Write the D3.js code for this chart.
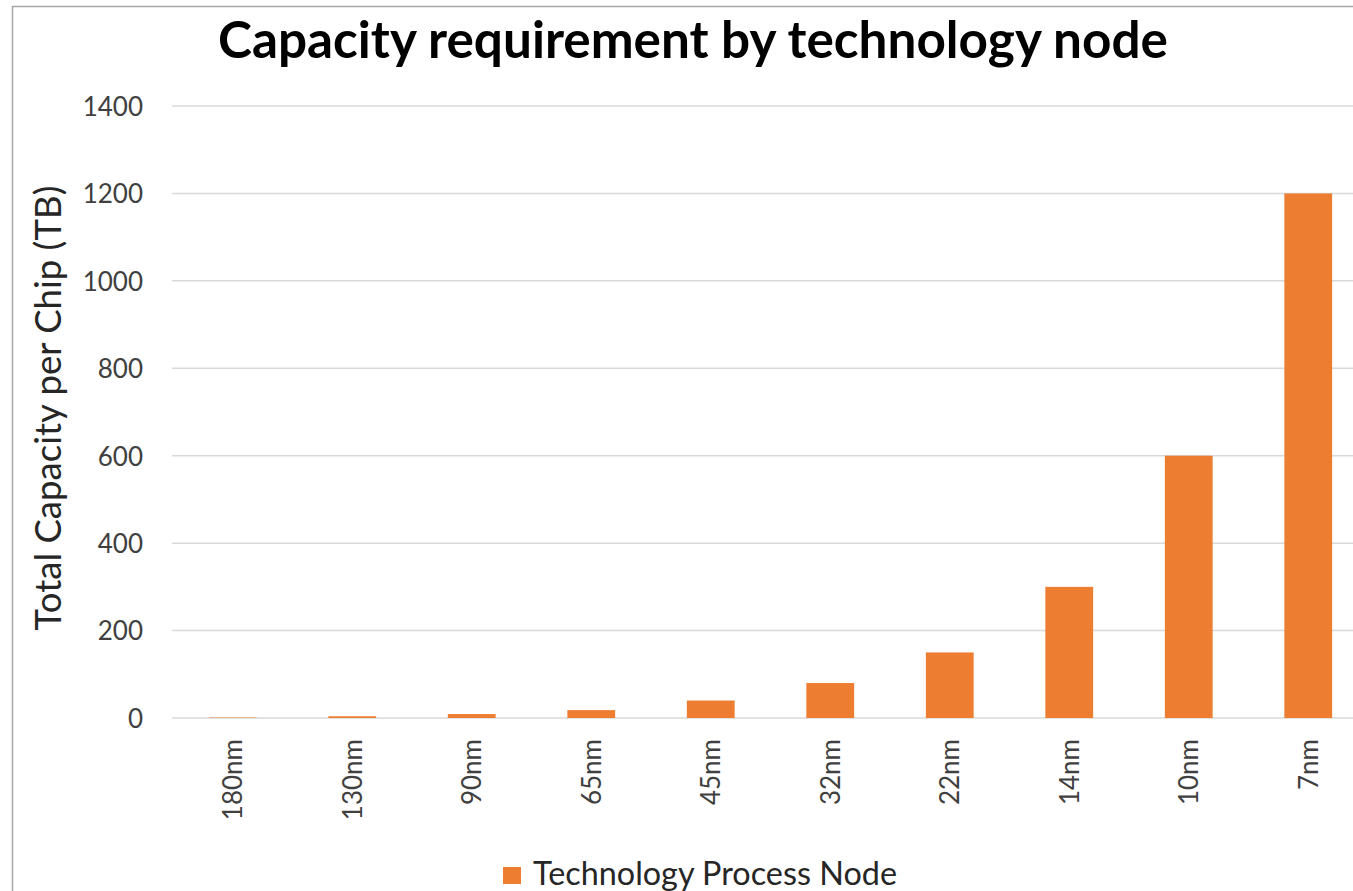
<!DOCTYPE html>
<html>
<head>
<meta charset="utf-8">
<script src="https://cdn.jsdelivr.net/npm/d3@7"></script>
<style>
  body { margin: 0; background: #fff; }
  svg { display: block; font-family: Lato, "Open Sans", sans-serif; }
</style>
</head>
<body>
<svg id="chart"></svg>
<script>
// chart data
var nodes = ["180nm", "130nm", "90nm", "65nm", "45nm", "32nm", "22nm", "14nm", "10nm", "7nm"];
var capacity = [1, 4, 9, 18, 40, 80, 150, 300, 600, 1200];
var yTicks = [0, 200, 400, 600, 800, 1000, 1200, 1400];
var seriesName = "Technology Process Node";
var titleText = "Capacity requirement by technology node";
var yTitleText = "Total Capacity per Chip (TB)";

var W = 1353, H = 891;
var margin = { top: 106, left: 173, bottom: H - 718 };
var barColor = "#ED7D31";

var svg = d3.select("#chart").attr("width", W).attr("height", H);

// frame of the chart area (cropped on right / bottom)
svg.append("line").attr("x1", 12).attr("x2", W).attr("y1", 6.5).attr("y2", 6.5)
    .attr("stroke", "#a6a6a6").attr("stroke-width", 1.5);
svg.append("line").attr("x1", 12.5).attr("x2", 12.5).attr("y1", 6).attr("y2", H)
    .attr("stroke", "#a6a6a6").attr("stroke-width", 1.5);

var x = d3.scaleBand()
    .domain(nodes)
    .range([margin.left, margin.left + 119.5 * nodes.length])
    .paddingInner(0.6)
    .paddingOuter(0.3);

var y = d3.scaleLinear()
    .domain([0, 1400])
    .range([718, margin.top]);

// fit a text element to a target length by scaling its font size
function fit(sel, target) {
    var fs = parseFloat(sel.style("font-size"));
    var len = sel.node().getComputedTextLength();
    sel.style("font-size", (fs * target / len).toFixed(2) + "px");
}

// gridlines
svg.append("g")
    .selectAll("line")
    .data(yTicks)
    .enter().append("line")
    .attr("x1", 172).attr("x2", W)
    .attr("y1", function (d) { return y(d); })
    .attr("y2", function (d) { return y(d); })
    .attr("stroke", "#d9d9d9")
    .attr("stroke-width", 1.5);

// y axis labels
var yAxis = svg.append("g")
    .attr("transform", "translate(143,0)")
    .call(d3.axisLeft(y).tickValues(yTicks).tickFormat(d3.format("d")).tickSize(0).tickPadding(0));
yAxis.select(".domain").remove();
yAxis.selectAll("text")
    .style("font-size", "26px")
    .style("font-family", "Lato, sans-serif")
    .attr("fill", "#404040")
    .attr("dy", "0.36em");

// bars
svg.append("g")
    .selectAll("rect")
    .data(nodes)
    .enter().append("rect")
    .attr("x", function (d) { return x(d); })
    .attr("width", x.bandwidth())
    .attr("y", function (d, i) { return y(capacity[i]); })
    .attr("height", function (d, i) { return y(0) - y(capacity[i]); })
    .attr("fill", barColor);

// x axis labels (rotated)
var xAxis = svg.append("g")
    .attr("transform", "translate(0,718)")
    .call(d3.axisBottom(x).tickSize(0).tickPadding(0));
xAxis.select(".domain").remove();
xAxis.selectAll("text")
    .style("font-size", "26px")
    .style("font-family", "Lato, sans-serif")
    .attr("fill", "#404040")
    .attr("text-anchor", "end")
    .attr("y", 0)
    .attr("dy", "0.36em")
    .attr("transform", "translate(0,21) rotate(-90)");

// title
var title = svg.append("text")
    .attr("x", 693).attr("y", 58)
    .attr("text-anchor", "middle")
    .style("font-size", "44px")
    .attr("font-weight", "bold")
    .attr("fill", "#000")
    .text(titleText);
fit(title, 950);

// y title
var yTitle = svg.append("text")
    .attr("transform", "translate(61,408) rotate(-90)")
    .attr("text-anchor", "middle")
    .style("font-size", "28px")
    .attr("fill", "#262626")
    .text(yTitleText);
fit(yTitle, 445);

// legend
var legend = svg.append("g");
legend.append("rect")
    .attr("x", 503).attr("y", 867)
    .attr("width", 18).attr("height", 17)
    .attr("fill", barColor);
var legendText = legend.append("text")
    .attr("x", 533).attr("y", 885)
    .style("font-size", "28px")
    .attr("fill", "#262626")
    .text(seriesName);
fit(legendText, 364);
</script>
</body>
</html>
